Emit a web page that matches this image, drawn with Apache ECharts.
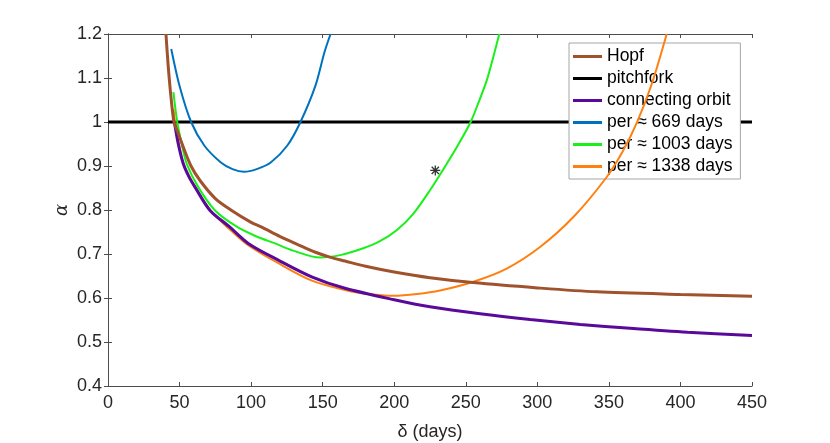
<!DOCTYPE html>
<html>
<head>
<meta charset="utf-8">
<script src="https://cdn.jsdelivr.net/npm/echarts@6/dist/echarts.min.js"></script>
<style>
  html, body { margin: 0; padding: 0; background: #fff; }
  #chart { width: 830px; height: 443px; }
</style>
</head>
<body>
<div id="chart"></div>
<script>
// [delta (days), alpha] points
var hopf = [[40.5, 1.2], [42, 1.13], [44, 1.057], [46.1, 1.0], [48.5, 0.979], [52.6, 0.943],
  [58, 0.9], [64.3, 0.867], [75, 0.826], [86.4, 0.799], [100, 0.772], [107.4, 0.761],
  [120, 0.74], [133, 0.721], [145, 0.704], [155, 0.693], [165.6, 0.684], [180, 0.672],
  [200, 0.659], [225, 0.646], [255, 0.635], [300, 0.623], [341.5, 0.614], [400, 0.608],
  [450, 0.604]];
var pitchfork = [[0, 1], [450, 1]];
var connecting = [[46.4, 1.0], [49, 0.952], [52.6, 0.905], [56.5, 0.876], [60.8, 0.852],
  [71.3, 0.799], [84.8, 0.762], [98, 0.724], [119, 0.686], [142.3, 0.648], [165.6, 0.622],
  [200, 0.596], [225, 0.58], [260, 0.564], [295, 0.551], [330, 0.54], [364.8, 0.531],
  [405, 0.522], [450, 0.515]];
var per669 = [[44.2, 1.166], [50, 1.082], [58.1, 1.0], [67.4, 0.946], [78.9, 0.908],
  [87, 0.893], [95, 0.887], [103.9, 0.893], [113.7, 0.908], [125.2, 0.946], [134.5, 1.0],
  [144.9, 1.082], [151.2, 1.158], [155.5, 1.2]];
var per1003 = [[45.7, 1.068], [48.4, 1.0], [51.5, 0.95], [55, 0.905], [63.1, 0.852],
  [74.8, 0.799], [90, 0.762], [103, 0.741], [116.7, 0.724], [130, 0.707], [148, 0.692],
  [163, 0.698], [178.4, 0.713], [190, 0.729], [201.7, 0.754], [213, 0.79], [225, 0.845],
  [236.7, 0.905], [245, 0.95], [253.4, 1.0], [259, 1.045], [264.6, 1.094], [269, 1.145],
  [273.4, 1.2]];
var per1338 = [[45.8, 1.03], [46.8, 1.0], [49.5, 0.95], [52.8, 0.905], [61, 0.852],
  [71.5, 0.799], [84.8, 0.757], [98, 0.72], [119, 0.679], [142, 0.64], [165.6, 0.618],
  [182, 0.609], [199.4, 0.605], [216, 0.609], [232, 0.617], [255.3, 0.637], [278.6, 0.667],
  [301.9, 0.716], [325.2, 0.784], [348.5, 0.875], [360, 0.935], [370, 1.002], [380, 1.087],
  [390.4, 1.2]];
var marker = [[228.7, 0.89]];

var names = ['Hopf', 'pitchfork', 'connecting orbit', 'per \u2248 669 days', 'per \u2248 1003 days', 'per \u2248 1338 days'];

var axisColor = '#4d4d4d';
var textColor = '#262626';
var font = 'Liberation Sans';

function curve(name, data, color, width, z) {
  return {
    name: name,
    type: 'line',
    data: data,
    symbol: 'none',
    smooth: 0.3,
    clip: true,
    z: z,
    lineStyle: { color: color, width: width },
    itemStyle: { color: color }
  };
}

var myChart = echarts.init(document.getElementById('chart'));
myChart.setOption({
  animation: false,
  backgroundColor: '#fff',
  grid: { left: 108, right: 78, top: 34, bottom: 57, containLabel: false, outerBoundsMode: 'none' },
  legend: {
    data: names,
    orient: 'vertical',
    left: 569,
    top: 43,
    icon: 'rect',
    itemWidth: 29,
    itemHeight: 3,
    itemGap: 3,
    padding: [4, 8, 3, 4],
    backgroundColor: '#fff',
    borderColor: '#a6a6a6',
    borderWidth: 1,
    borderRadius: 0,
    textStyle: { color: '#000', fontSize: 17.5, lineHeight: 19, fontFamily: font }
  },
  xAxis: [{
    type: 'value', min: 0, max: 450, interval: 50,
    name: '\u03b4 (days)', nameLocation: 'middle', nameGap: 37, nameMoveOverlap: false,
    nameTextStyle: { color: textColor, fontSize: 18, fontFamily: font },
    axisLine: { lineStyle: { color: axisColor } },
    axisTick: { inside: true, length: 4, lineStyle: { color: axisColor } },
    axisLabel: { color: textColor, fontSize: 18, fontFamily: font, margin: 8 },
    splitLine: { show: false }
  }, {
    type: 'value', min: 0, max: 450, interval: 50, position: 'top',
    axisLine: { lineStyle: { color: axisColor } },
    axisTick: { inside: true, length: 4, lineStyle: { color: axisColor } },
    axisLabel: { show: false }, splitLine: { show: false }
  }],
  yAxis: [{
    type: 'value', min: 0.4, max: 1.2, interval: 0.1,
    name: '\u03b1', nameLocation: 'middle', nameGap: 37, nameRotate: 90, nameMoveOverlap: false,
    nameTextStyle: { color: textColor, fontSize: 18, fontFamily: 'DejaVu Serif', fontStyle: 'italic' },
    axisLine: { show: true, lineStyle: { color: axisColor } },
    axisTick: { show: true, inside: true, length: 4, lineStyle: { color: axisColor } },
    axisLabel: { color: textColor, fontSize: 18, fontFamily: font, margin: 6 },
    splitLine: { show: false }
  }, {
    type: 'value', min: 0.4, max: 1.2, interval: 0.1, position: 'right',
    axisLine: { show: true, lineStyle: { color: axisColor } },
    axisTick: { show: true, inside: true, length: 4, lineStyle: { color: axisColor } },
    axisLabel: { show: false }, splitLine: { show: false }
  }],
  series: [
    curve(names[0], hopf, '#a0522d', 3, 6),
    curve(names[1], pitchfork, '#000000', 3, 3),
    curve(names[2], connecting, '#5a0a9a', 3, 5),
    curve(names[3], per669, '#0072bd', 2, 4),
    curve(names[4], per1003, '#19f019', 2, 4),
    curve(names[5], per1338, '#ff8010', 2, 4),
    {
      type: 'scatter',
      data: marker,
      symbol: 'path://M0,-5L0,5M-5,0L5,0M-3.6,-3.6L3.6,3.6M-3.6,3.6L3.6,-3.6',
      symbolSize: 10,
      z: 7,
      itemStyle: { color: 'transparent', borderColor: '#000', borderWidth: 1.3 }
    }
  ]
});
window.onresize = function () {
  myChart.resize();
};
</script>
</body>
</html>
